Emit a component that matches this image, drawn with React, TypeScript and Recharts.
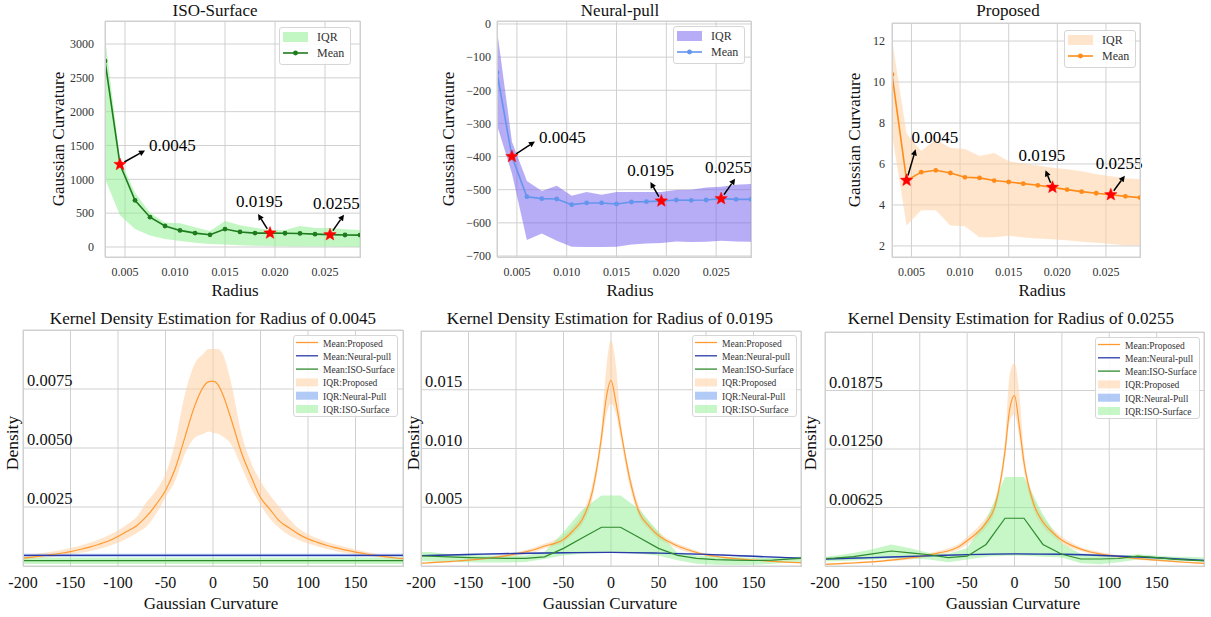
import React from 'react';
import { ComposedChart, Area, Line, XAxis, YAxis, CartesianGrid, ReferenceDot } from 'recharts';

const SERIF = "'Liberation Serif', 'Times New Roman', serif";

// ---------- top row: gaussian curvature vs radius ----------
const radius = [0.003, 0.0045, 0.006, 0.0075, 0.009, 0.0105, 0.012, 0.0135, 0.015, 0.0165, 0.018, 0.0195, 0.021, 0.0225, 0.024, 0.0255, 0.027, 0.0285];
const radiusTicks = [0.005, 0.01, 0.015, 0.02, 0.025];
const markedRadii = [0.0045, 0.0195, 0.0255];

const isoMean = [2750, 1220, 690, 440, 310, 245, 205, 180, 265, 222, 205, 205, 203, 200, 190, 182, 177, 176];
const isoLow = [1010, 470, 265, 168, 118, 88, 62, 45, 35, 25, 18, 14, 11, 9, 7, 6, 5, 5];
const isoHigh = [3100, 1290, 800, 505, 360, 350, 290, 235, 385, 320, 285, 250, 252, 310, 280, 280, 262, 250];
const isoYTicks = [0, 500, 1000, 1500, 2000, 2500, 3000];

const neuralMean = [-147, -400, -521, -527, -528, -545, -540, -540, -543, -537, -536, -534, -531, -532, -531, -527, -529, -529];
const neuralLow = [-305, -451, -652, -632, -654, -672, -673, -673, -672, -665, -662, -661, -656, -658, -657, -654, -656, -657];
const neuralHigh = [-18, -355, -474, -504, -488, -518, -507, -515, -507, -507, -507, -507, -501, -500, -493, -491, -485, -483];
const neuralYTicks = [-700, -600, -500, -400, -300, -200, -100, 0];

const propMean = [10.37, 5.2, 5.6, 5.69, 5.56, 5.35, 5.32, 5.19, 5.12, 5.04, 4.96, 4.86, 4.75, 4.65, 4.57, 4.5, 4.42, 4.36];
const propLow = [7.48, 3.0, 3.74, 3.74, 3.0, 2.96, 2.42, 2.42, 2.5, 2.41, 2.36, 2.33, 2.28, 2.21, 2.16, 2.1, 2.03, 2.03];
const propHigh = [12.07, 7.48, 6.63, 7.19, 6.78, 6.73, 6.39, 6.54, 6.13, 6.02, 5.93, 5.82, 5.74, 5.64, 5.5, 5.4, 5.3, 5.25];
const propYTicks = [2, 4, 6, 8, 10, 12];

// ---------- bottom row: kernel density estimates ----------
const curvX = [-200, -190, -180, -170, -160, -150, -140, -130, -120, -110, -100, -90, -80, -70, -60, -50, -40, -30, -20, -10, -5, 0, 5, 10, 20, 30, 40, 50, 60, 70, 80, 90, 100, 110, 120, 130, 140, 150, 160, 170, 180, 190, 200];
const isoCurvX = [-200, -190, -170, -150, -130, -110, -90, -70, -50, -30, -10, 10, 30, 50, 70, 90, 110, 130, 150, 170, 190, 200];
const neuralCurvX = [-200, -150, -100, -50, 0, 50, 100, 150, 200];
const curvTicks = [-200, -150, -100, -50, 0, 50, 100, 150];

// radius 0.0045
const kdeAPropMean = [0.00033, 0.00038, 0.00043, 0.00048, 0.00054, 0.00061, 0.0007, 0.0008, 0.00092, 0.00106, 0.00125, 0.00148, 0.00172, 0.0021, 0.0026, 0.0032, 0.0041, 0.0054, 0.0067, 0.0076, 0.0078, 0.00783, 0.0077, 0.0073, 0.0061, 0.0048, 0.0038, 0.0029, 0.0024, 0.0019, 0.00162, 0.00135, 0.00115, 0.001, 0.00087, 0.00077, 0.00067, 0.00059, 0.00052, 0.00045, 0.0004, 0.00035, 0.00031];
const kdeAPropLow = [0.00025, 0.0003, 0.00034, 0.00038, 0.00043, 0.00048, 0.00055, 0.00063, 0.00072, 0.00084, 0.00098, 0.00118, 0.0014, 0.00167, 0.0022, 0.0029, 0.0036, 0.0047, 0.0054, 0.0056, 0.0057, 0.00565, 0.0056, 0.0055, 0.0051, 0.0042, 0.0033, 0.0026, 0.002, 0.0016, 0.0013, 0.0011, 0.00095, 0.00083, 0.00072, 0.00063, 0.00055, 0.00049, 0.00043, 0.00038, 0.00034, 0.0003, 0.00027];
const kdeAPropHigh = [0.00045, 0.0005, 0.00055, 0.0006, 0.00068, 0.00076, 0.00086, 0.00098, 0.00112, 0.0013, 0.0015, 0.00178, 0.0021, 0.0027, 0.0032, 0.0039, 0.0052, 0.0072, 0.0085, 0.009, 0.0092, 0.0092, 0.0092, 0.009, 0.0076, 0.0056, 0.0044, 0.0036, 0.003, 0.0025, 0.002, 0.0016, 0.00135, 0.00117, 0.00102, 0.0009, 0.0008, 0.0007, 0.00061, 0.00053, 0.00046, 0.0004, 0.00037];
const kdeAIsoMean = [0.00023, 0.00023, 0.00023, 0.00023, 0.00023, 0.00023, 0.00023, 0.00023, 0.00023, 0.00023, 0.00023, 0.00023, 0.00023, 0.00023, 0.00023, 0.00023, 0.00023, 0.00023, 0.00023, 0.00023, 0.00023, 0.00023];
const kdeAIsoLow = [0.00009, 0.00009, 0.00009, 0.00009, 0.00009, 0.00009, 0.00009, 0.00009, 0.00009, 0.00009, 0.00009, 0.00009, 0.00009, 0.00009, 0.00009, 0.00009, 0.00009, 0.00009, 0.00009, 0.00009, 0.00009, 0.00009];
const kdeAIsoHigh = [0.00036, 0.00036, 0.00036, 0.00036, 0.00036, 0.00036, 0.00036, 0.00036, 0.00036, 0.00036, 0.00036, 0.00036, 0.00036, 0.00036, 0.00036, 0.00036, 0.00036, 0.00036, 0.00036, 0.00036, 0.00036, 0.00036];
const kdeANeuralMean = [0.00045, 0.00045, 0.00045, 0.00045, 0.00045, 0.00045, 0.00045, 0.00045, 0.00045];
const kdeANeuralLow = [0.00039, 0.00039, 0.00039, 0.00039, 0.00039, 0.00039, 0.00039, 0.00039, 0.00039];
const kdeANeuralHigh = [0.00052, 0.00052, 0.00052, 0.00052, 0.00052, 0.00052, 0.00052, 0.00052, 0.00052];
const kdeATicks = [0.0025, 0.005, 0.0075];
const kdeATickLabels = ['0.0025', '0.0050', '0.0075'];

// radius 0.0195
const kdeBPropMean = [0.00023, 0.00028, 0.00033, 0.00038, 0.00044, 0.0005, 0.00057, 0.00066, 0.00076, 0.00088, 0.00102, 0.0012, 0.0014, 0.0017, 0.0019, 0.00226, 0.003, 0.004, 0.0062, 0.011, 0.0143, 0.0158, 0.014, 0.0117, 0.0073, 0.0045, 0.0034, 0.0026, 0.0021, 0.0017, 0.0014, 0.00115, 0.00095, 0.00083, 0.00072, 0.00064, 0.00057, 0.00051, 0.00045, 0.0004, 0.00035, 0.00031, 0.00028];
const kdeBPropLow = [0.00018, 0.00022, 0.00027, 0.00031, 0.00036, 0.00042, 0.00048, 0.00056, 0.00065, 0.00075, 0.00088, 0.00104, 0.0012, 0.0015, 0.0017, 0.002, 0.0027, 0.0036, 0.0056, 0.0101, 0.0128, 0.0138, 0.013, 0.0109, 0.0067, 0.0041, 0.0031, 0.0023, 0.0019, 0.0015, 0.0012, 0.00102, 0.00085, 0.00074, 0.00064, 0.00057, 0.0005, 0.00045, 0.0004, 0.00035, 0.00031, 0.00027, 0.00024];
const kdeBPropHigh = [0.0003, 0.00035, 0.0004, 0.00045, 0.00052, 0.0006, 0.00068, 0.00078, 0.0009, 0.00102, 0.00118, 0.00137, 0.0016, 0.0019, 0.0022, 0.0026, 0.0034, 0.0045, 0.0068, 0.0119, 0.0168, 0.0192, 0.0172, 0.0126, 0.0079, 0.005, 0.0037, 0.0029, 0.0023, 0.0019, 0.0016, 0.0013, 0.00108, 0.00093, 0.00081, 0.00072, 0.00064, 0.00057, 0.0005, 0.00045, 0.0004, 0.00036, 0.00032];
const kdeBIsoMean = [0.00085, 0.00083, 0.00078, 0.00072, 0.00068, 0.00065, 0.00065, 0.00078, 0.0015, 0.0024, 0.0033, 0.0033, 0.0024, 0.0015, 0.0009, 0.00065, 0.00055, 0.0005, 0.00047, 0.0005, 0.0006, 0.00065];
const kdeBIsoLow = [0.0004, 0.0004, 0.00035, 0.00032, 0.0003, 0.0003, 0.00035, 0.0006, 0.0009, 0.00105, 0.0011, 0.0011, 0.00105, 0.0009, 0.0005, 0.0002, 0.0001, 0.00008, 0.0001, 0.0002, 0.0003, 0.00035];
const kdeBIsoHigh = [0.0012, 0.0012, 0.001, 0.00095, 0.0009, 0.00088, 0.0009, 0.0012, 0.0029, 0.0048, 0.006, 0.006, 0.0048, 0.0029, 0.0011, 0.0009, 0.0008, 0.00075, 0.0007, 0.0007, 0.00075, 0.0008];
const kdeBNeuralMean = [0.00088, 0.00098, 0.00107, 0.00113, 0.00116, 0.0011, 0.00099, 0.00083, 0.00066];
const kdeBNeuralLow = [0.00082, 0.00092, 0.00101, 0.00107, 0.0011, 0.00104, 0.00093, 0.00077, 0.0006];
const kdeBNeuralHigh = [0.00094, 0.00104, 0.00113, 0.00119, 0.00122, 0.00116, 0.00105, 0.00089, 0.00072];
const kdeBTicks = [0.005, 0.01, 0.015];
const kdeBTickLabels = ['0.005', '0.010', '0.015'];

// radius 0.0255
const kdeCPropMean = [0.00018, 0.00022, 0.00027, 0.00032, 0.00038, 0.00045, 0.00053, 0.00062, 0.00073, 0.00086, 0.001, 0.00118, 0.0014, 0.0016, 0.002, 0.0027, 0.0035, 0.0046, 0.0066, 0.0123, 0.0168, 0.0182, 0.015, 0.0111, 0.0067, 0.0047, 0.0036, 0.00275, 0.0022, 0.0018, 0.0015, 0.0013, 0.00115, 0.001, 0.00088, 0.00078, 0.0007, 0.00063, 0.00055, 0.00047, 0.0004, 0.00034, 0.00028];
const kdeCPropLow = [0.00012, 0.00016, 0.0002, 0.00025, 0.0003, 0.00036, 0.00043, 0.00051, 0.0006, 0.0007, 0.00083, 0.00098, 0.0012, 0.0014, 0.0017, 0.0023, 0.0031, 0.0041, 0.006, 0.0113, 0.0155, 0.0162, 0.0138, 0.0102, 0.0061, 0.0042, 0.0032, 0.0024, 0.0019, 0.0016, 0.0013, 0.0011, 0.001, 0.00088, 0.00077, 0.00068, 0.0006, 0.00054, 0.00047, 0.0004, 0.00034, 0.00029, 0.00024];
const kdeCPropHigh = [0.00025, 0.0003, 0.00035, 0.0004, 0.00047, 0.00055, 0.00064, 0.00075, 0.00087, 0.00102, 0.0012, 0.0014, 0.0016, 0.0019, 0.0023, 0.0031, 0.004, 0.0052, 0.0073, 0.0135, 0.0205, 0.0217, 0.0185, 0.0122, 0.0074, 0.0052, 0.004, 0.0031, 0.0025, 0.002, 0.0017, 0.0015, 0.0013, 0.00113, 0.001, 0.00089, 0.0008, 0.00072, 0.00063, 0.00055, 0.00047, 0.0004, 0.00034];
const kdeCIsoMean = [0.0008, 0.00085, 0.001, 0.0013, 0.0016, 0.0014, 0.0012, 0.0009, 0.00105, 0.0023, 0.0051, 0.0051, 0.0023, 0.00125, 0.00075, 0.00075, 0.0008, 0.00105, 0.0009, 0.0007, 0.0006, 0.00055];
const kdeCIsoLow = [0.0005, 0.0005, 0.0006, 0.0007, 0.0008, 0.0008, 0.0007, 0.0004, 0.0007, 0.001, 0.0011, 0.0011, 0.001, 0.0009, 0.0003, 0.0002, 0.0004, 0.0007, 0.0006, 0.00055, 0.0005, 0.0005];
const kdeCIsoHigh = [0.001, 0.0011, 0.0014, 0.0018, 0.0023, 0.0019, 0.0014, 0.0013, 0.0019, 0.0049, 0.0095, 0.0095, 0.0055, 0.0024, 0.0013, 0.0012, 0.0011, 0.00125, 0.0011, 0.001, 0.00095, 0.0009];
const kdeCNeuralMean = [0.00075, 0.0009, 0.00105, 0.00122, 0.0013, 0.00125, 0.0011, 0.00088, 0.0006];
const kdeCNeuralLow = [0.00065, 0.0008, 0.00095, 0.00112, 0.0012, 0.00115, 0.001, 0.00078, 0.0005];
const kdeCNeuralHigh = [0.00085, 0.001, 0.00115, 0.00132, 0.0014, 0.00135, 0.0012, 0.00098, 0.0007];
const kdeCTicks = [0.00625, 0.0125, 0.01875];
const kdeCTickLabels = ['0.00625', '0.01250', '0.01875'];

// ---------- colours ----------
const GRID = '#d0d0d0';
const ISO_LINE = '#1e7b1e';
const ISO_FILL = '#90ee90';
const NEURAL_LINE = '#6495ed';
const NEURAL_FILL = '#7b68ee';
const PROP_LINE = '#ff8c1a';
const PROP_FILL = '#ffd0a0';
const KDE_PROP = '#ff9a33';
const KDE_NEURAL = '#2a3aa8';
const KDE_ISO = '#2e8b2e';
const KDE_NEURAL_FILL = '#6495ed';

type Rect = { x: number; y: number; w: number; h: number };

function Txt({ x, y, size, rotate, children }: { x: number; y: number; size: number; rotate?: boolean; children: React.ReactNode }) {
  return (
    <div
      style={{
        position: 'absolute',
        left: x,
        top: y,
        transform: `translate(-50%, -50%)${rotate ? ' rotate(-90deg)' : ''}`,
        fontFamily: SERIF,
        fontSize: size,
        lineHeight: 1,
        whiteSpace: 'nowrap',
        color: '#111',
      }}
    >
      {children}
    </div>
  );
}

function Border({ r }: { r: Rect }) {
  return (
    <div
      style={{
        position: 'absolute',
        left: r.x - 0.5,
        top: r.y - 0.5,
        width: r.w + 1,
        height: r.h + 1,
        border: `1.2px solid ${GRID}`,
        boxSizing: 'border-box',
        pointerEvents: 'none',
      }}
    />
  );
}

function starPoints(cx: number, cy: number, ro: number, ri: number) {
  const pts: string[] = [];
  for (let i = 0; i < 10; i++) {
    const a = -Math.PI / 2 + (i * Math.PI) / 5;
    const rr = i % 2 === 0 ? ro : ri;
    pts.push(`${cx + rr * Math.cos(a)},${cy + rr * Math.sin(a)}`);
  }
  return pts.join(' ');
}

type Annot = { arrow: [number, number]; text: [number, number] };

function annotShape(label: string, a: Annot) {
  return (p: any) => {
    const { cx, cy } = p;
    const [ax, ay] = a.arrow;
    const len = Math.hypot(ax, ay);
    const ux = ax / len;
    const uy = ay / len;
    const ex = cx + ax;
    const ey = cy + ay;
    const bx = ex - ux * 6;
    const by = ey - uy * 6;
    const px = -uy * 3;
    const py = ux * 3;
    return (
      <g>
        <line x1={cx + ux * 5} y1={cy + uy * 5} x2={bx} y2={by} stroke="#000" strokeWidth={1.5} />
        <polygon points={`${ex},${ey} ${bx + px},${by + py} ${bx - px},${by - py}`} fill="#000" />
        <polygon points={starPoints(cx, cy, 6.5, 2.8)} fill="#ff0000" stroke="#ff0000" strokeWidth={0.5} />
        <text x={cx + a.text[0]} y={cy + a.text[1]} fontFamily={SERIF} fontSize={17} fill="#000">
          {label}
        </text>
      </g>
    );
  };
}

function TopLegend({ x, y, line, fill, fillOpacity }: { x: number; y: number; line: string; fill: string; fillOpacity: number }) {
  return (
    <div
      style={{
        position: 'absolute',
        left: x,
        top: y,
        width: 72,
        height: 38,
        border: '1px solid #d6d6d6',
        borderRadius: 3,
        background: 'rgba(255,255,255,0.85)',
        boxSizing: 'border-box',
        fontFamily: SERIF,
        fontSize: 12,
        color: '#333',
      }}
    >
      <svg width={72} height={38} style={{ position: 'absolute', left: -1, top: -1 }}>
        <rect x={4} y={5} width={25} height={10} fill={fill} fillOpacity={fillOpacity} />
        <line x1={4} x2={29} y1={26} y2={26} stroke={line} strokeWidth={1.6} />
        <circle cx={16.5} cy={26} r={2.4} fill={line} />
      </svg>
      <div style={{ position: 'absolute', left: 37, top: 2, lineHeight: '14px' }}>IQR</div>
      <div style={{ position: 'absolute', left: 37, top: 18, lineHeight: '14px' }}>Mean</div>
    </div>
  );
}

const kdeLegendItems = [
  { label: 'Mean:Proposed', kind: 'line', color: KDE_PROP, op: 1 },
  { label: 'Mean:Neural-pull', kind: 'line', color: KDE_NEURAL, op: 1 },
  { label: 'Mean:ISO-Surface', kind: 'line', color: KDE_ISO, op: 1 },
  { label: 'IQR:Proposed', kind: 'patch', color: PROP_FILL, op: 0.55 },
  { label: 'IQR:Neural-Pull', kind: 'patch', color: KDE_NEURAL_FILL, op: 0.5 },
  { label: 'IQR:ISO-Surface', kind: 'patch', color: ISO_FILL, op: 0.5 },
];

function KdeLegend({ x, y }: { x: number; y: number }) {
  return (
    <div
      style={{
        position: 'absolute',
        left: x,
        top: y,
        width: 105,
        height: 82,
        border: '1px solid #d6d6d6',
        borderRadius: 3,
        background: 'rgba(255,255,255,0.85)',
        boxSizing: 'border-box',
        fontFamily: SERIF,
        fontSize: 9.5,
        color: '#333',
      }}
    >
      <svg width={105} height={82} style={{ position: 'absolute', left: -1, top: -1 }}>
        {kdeLegendItems.map((it, i) => {
          const cy = 7.5 + i * 13.3;
          return it.kind === 'line' ? (
            <line key={i} x1={3} x2={25} y1={cy} y2={cy} stroke={it.color} strokeWidth={1.3} />
          ) : (
            <rect key={i} x={3} y={cy - 4} width={22} height={8} fill={it.color} fillOpacity={it.op} />
          );
        })}
      </svg>
      {kdeLegendItems.map((it, i) => (
        <div key={i} style={{ position: 'absolute', left: 29, top: 1.5 + i * 13.3, lineHeight: '12px', whiteSpace: 'nowrap' }}>
          {it.label}
        </div>
      ))}
    </div>
  );
}

type TopSpec = {
  title: string;
  plot: Rect;
  mean: number[];
  low: number[];
  high: number[];
  yDomain: [number, number];
  yTicks: number[];
  tickGap: number;
  line: string;
  fill: string;
  fillOpacity: number;
  annots: Annot[];
  titleX: number;
  ylabelX: number;
  xlabelX: number;
  legend: [number, number];
};

const fmtTop = (v: number) => (v < 0 ? `\u2212${Math.abs(v)}` : String(v));

function TopPanel({ s }: { s: TopSpec }) {
  const L = 100, T = 25, R = 20, B = 40;
  const rows = radius.map((r, i) => ({ r, mean: s.mean[i], iqr: [s.low[i], s.high[i]] }));
  const tick = { fontFamily: SERIF, fontSize: 12, fill: '#333' };
  return (
    <>
      <div style={{ position: 'absolute', left: s.plot.x - L, top: s.plot.y - T }}>
        <ComposedChart
          width={s.plot.w + L + R}
          height={s.plot.h + T + B}
          data={rows}
          margin={{ top: T, right: R, bottom: B - 30, left: L - 60 }}
        >
          <CartesianGrid stroke={GRID} strokeWidth={1} />
          <XAxis
            dataKey="r"
            type="number"
            domain={[0.003, 0.0285]}
            ticks={radiusTicks}
            allowDataOverflow
            interval={0}
            height={30}
            axisLine={false}
            tickLine={false}
            tickSize={0}
            tickMargin={10}
            tick={tick}
            tickFormatter={(v: number) => v.toFixed(3)}
          />
          <YAxis
            type="number"
            domain={s.yDomain}
            ticks={s.yTicks}
            allowDataOverflow
            interval={0}
            width={60}
            axisLine={false}
            tickLine={false}
            tickSize={0}
            tickMargin={s.tickGap}
            tick={tick}
            tickFormatter={fmtTop}
          />
          <Area dataKey="iqr" type="linear" stroke="none" fill={s.fill} fillOpacity={s.fillOpacity} isAnimationActive={false} />
          <Line
            dataKey="mean"
            type="linear"
            stroke={s.line}
            strokeWidth={1.6}
            dot={{ r: 2.4, fill: s.line, stroke: s.line, strokeWidth: 0 }}
            isAnimationActive={false}
          />
          {markedRadii.map((r, k) => (
            <ReferenceDot
              key={k}
              x={r}
              y={s.mean[radius.indexOf(r)]}
              r={6}
              shape={annotShape(r.toFixed(4), s.annots[k])}
            />
          ))}
        </ComposedChart>
      </div>
      <Border r={s.plot} />
      <TopLegend x={s.legend[0]} y={s.legend[1]} line={s.line} fill={s.fill} fillOpacity={s.fillOpacity} />
      <Txt x={s.titleX} y={9.5} size={17}>{s.title}</Txt>
      <Txt x={s.ylabelX} y={s.plot.y + s.plot.h / 2} size={17}rotate>Gaussian Curvature</Txt>
      <Txt x={s.xlabelX} y={290} size={17}>Radius</Txt>
    </>
  );
}

type KdeSpec = {
  radiusLabel: string;
  plot: Rect;
  yMax: number;
  yTicks: number[];
  yTickLabels: string[];
  propMean: number[];
  propLow: number[];
  propHigh: number[];
  isoMean: number[];
  isoLow: number[];
  isoHigh: number[];
  neuralMean: number[];
  neuralLow: number[];
  neuralHigh: number[];
  titleX: number;
  densityX: number;
  xlabelX: number;
  legend: [number, number];
  right: number;
};

function KdePanel({ s }: { s: KdeSpec }) {
  const L = 60, T = 10, R = s.right, B = 40;
  const rows = curvX.map((x, i) => {
    const j = isoCurvX.indexOf(x);
    const k = neuralCurvX.indexOf(x);
    return {
      x,
      prop: s.propMean[i],
      propIqr: [s.propLow[i], s.propHigh[i]],
      iso: j >= 0 ? s.isoMean[j] : null,
      isoIqr: j >= 0 ? [s.isoLow[j], s.isoHigh[j]] : null,
      neural: k >= 0 ? s.neuralMean[k] : null,
      neuralIqr: k >= 0 ? [s.neuralLow[k], s.neuralHigh[k]] : null,
    };
  });
  const yTick = (p: any) => {
    const idx = s.yTicks.indexOf(p.payload.value);
    return (
      <text x={p.x + 4} y={p.y - 3} fontFamily={SERIF} fontSize={16.5} fill="#111" textAnchor="start">
        {idx >= 0 ? s.yTickLabels[idx] : ''}
      </text>
    );
  };
  return (
    <>
      <div style={{ position: 'absolute', left: s.plot.x - L, top: s.plot.y - T }}>
        <ComposedChart
          width={s.plot.w + L + R}
          height={s.plot.h + T + B}
          data={rows}
          margin={{ top: T, right: R, bottom: B - 30, left: L - 60 }}
        >
          <CartesianGrid stroke={GRID} strokeWidth={1} />
          <XAxis
            dataKey="x"
            type="number"
            domain={[-200, 200]}
            ticks={curvTicks}
            allowDataOverflow
            interval={0}
            height={30}
            axisLine={false}
            tickLine={false}
            tickSize={0}
            tickMargin={11}
            tick={{ fontFamily: SERIF, fontSize: 16, fill: '#111' }}
          />
          <YAxis
            type="number"
            domain={[0, s.yMax]}
            ticks={s.yTicks}
            allowDataOverflow
            interval={0}
            width={60}
            axisLine={false}
            tickLine={false}
            tickSize={0}
            tickMargin={0}
            tick={yTick}
          />
          <Area dataKey="propIqr" type="monotone" stroke="none" fill={PROP_FILL} fillOpacity={0.55} isAnimationActive={false} />
          <Area dataKey="neuralIqr" type="monotone" stroke="none" fill={KDE_NEURAL_FILL} fillOpacity={0.5} connectNulls isAnimationActive={false} />
          <Area dataKey="isoIqr" type="linear" stroke="none" fill={ISO_FILL} fillOpacity={0.5} connectNulls isAnimationActive={false} />
          <Line dataKey="prop" type="monotone" stroke={KDE_PROP} strokeWidth={1.2} dot={false} isAnimationActive={false} />
          <Line dataKey="neural" type="monotone" stroke={KDE_NEURAL} strokeWidth={1.4} dot={false} connectNulls isAnimationActive={false} />
          <Line dataKey="iso" type="linear" stroke={KDE_ISO} strokeWidth={1.2} dot={false} connectNulls isAnimationActive={false} />
        </ComposedChart>
      </div>
      <Border r={s.plot} />
      <KdeLegend x={s.legend[0]} y={s.legend[1]} />
      <Txt x={s.titleX} y={318} size={17}>{`Kernel Density Estimation for Radius of ${s.radiusLabel}`}</Txt>
      <Txt x={s.densityX} y={443} size={17.5} rotate>Density</Txt>
      <Txt x={s.xlabelX} y={603} size={17}>Gaussian Curvature</Txt>
    </>
  );
}

const topPanels: TopSpec[] = [
  {
    title: 'ISO-Surface', plot: { x: 105, y: 21, w: 255, h: 236 },
    mean: isoMean, low: isoLow, high: isoHigh, yDomain: [-148, 3340], yTicks: isoYTicks, tickGap: 11,
    line: ISO_LINE, fill: ISO_FILL, fillOpacity: 0.55,
    annots: [{ arrow: [25, -14], text: [29, -13] }, { arrow: [-12, -19], text: [-34, -26] }, { arrow: [14, -20], text: [-17, -26] }],
    titleX: 215, ylabelX: 58, xlabelX: 235, legend: [279, 27],
  },
  {
    title: 'Neural-pull', plot: { x: 497, y: 21, w: 254, h: 236 },
    mean: neuralMean, low: neuralLow, high: neuralHigh, yDomain: [-703, 9], yTicks: neuralYTicks, tickGap: 6,
    line: NEURAL_LINE, fill: NEURAL_FILL, fillOpacity: 0.55,
    annots: [{ arrow: [23, -15], text: [27, -14] }, { arrow: [-11, -19], text: [-34, -25] }, { arrow: [14, -20], text: [-16, -26] }],
    titleX: 620, ylabelX: 448, xlabelX: 630, legend: [673, 26],
  },
  {
    title: 'Proposed', plot: { x: 892, y: 23, w: 248, h: 234 },
    mean: propMean, low: propLow, high: propHigh, yDomain: [1.46, 12.88], yTicks: propYTicks, tickGap: 7,
    line: PROP_LINE, fill: PROP_FILL, fillOpacity: 0.55,
    annots: [{ arrow: [9, -31], text: [5, -37] }, { arrow: [-7, -17], text: [-34, -26] }, { arrow: [14, -19], text: [-15, -26] }],
    titleX: 1008, ylabelX: 854, xlabelX: 1042, legend: [1064, 30],
  },
];

const kdePanels: KdeSpec[] = [
  {
    radiusLabel: '0.0045', plot: { x: 23, y: 330, w: 380, h: 236 }, yMax: 0.01, yTicks: kdeATicks, yTickLabels: kdeATickLabels,
    propMean: kdeAPropMean, propLow: kdeAPropLow, propHigh: kdeAPropHigh,
    isoMean: kdeAIsoMean, isoLow: kdeAIsoLow, isoHigh: kdeAIsoHigh,
    neuralMean: kdeANeuralMean, neuralLow: kdeANeuralLow, neuralHigh: kdeANeuralHigh,
    titleX: 213, densityX: 13, xlabelX: 211, legend: [293, 335], right: 12,
  },
  {
    radiusLabel: '0.0195', plot: { x: 421, y: 331, w: 380, h: 235 }, yMax: 0.02, yTicks: kdeBTicks, yTickLabels: kdeBTickLabels,
    propMean: kdeBPropMean, propLow: kdeBPropLow, propHigh: kdeBPropHigh,
    isoMean: kdeBIsoMean, isoLow: kdeBIsoLow, isoHigh: kdeBIsoHigh,
    neuralMean: kdeBNeuralMean, neuralLow: kdeBNeuralLow, neuralHigh: kdeBNeuralHigh,
    titleX: 610, densityX: 414, xlabelX: 610, legend: [692, 335], right: 12,
  },
  {
    radiusLabel: '0.0255', plot: { x: 825, y: 332, w: 379, h: 234 }, yMax: 0.025, yTicks: kdeCTicks, yTickLabels: kdeCTickLabels,
    propMean: kdeCPropMean, propLow: kdeCPropLow, propHigh: kdeCPropHigh,
    isoMean: kdeCIsoMean, isoLow: kdeCIsoLow, isoHigh: kdeCIsoHigh,
    neuralMean: kdeCNeuralMean, neuralLow: kdeCNeuralLow, neuralHigh: kdeCNeuralHigh,
    titleX: 1011, densityX: 811, xlabelX: 1013, legend: [1095, 337], right: 5,
  },
];

export default function App() {
  return (
    <div style={{ position: 'absolute', left: 0, top: 0, width: 1211, height: 617, overflow: 'hidden', background: '#fff' }}>
      {topPanels.map((s, i) => (
        <TopPanel key={`t${i}`} s={s} />
      ))}
      {kdePanels.map((s, i) => (
        <KdePanel key={`k${i}`} s={s} />
      ))}
    </div>
  );
}
